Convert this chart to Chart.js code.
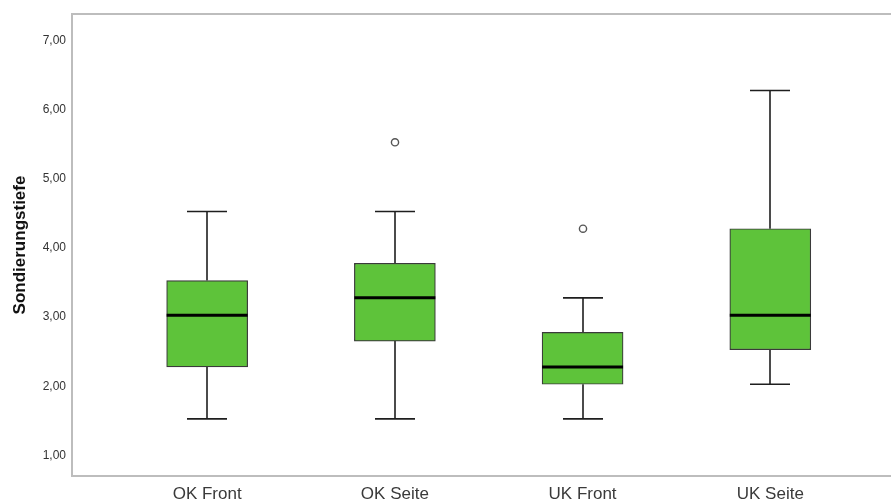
<!DOCTYPE html>
<html lang="de">
<head>
<meta charset="utf-8">
<title>Sondierungstiefe</title>
<script src="https://cdn.jsdelivr.net/npm/chart.js@4/dist/chart.umd.min.js"></script>
<style>
  html, body { margin: 0; padding: 0; background: #ffffff; overflow: hidden; }
  #wrap { width: 891px; height: 502px; overflow: hidden; }
  canvas { display: block; }
</style>
</head>
<body>
<div id="wrap"><canvas id="box" width="958" height="502"></canvas></div>
<script>
// Boxplot statistics per group
const categories = ['OK Front', 'OK Seite', 'UK Front', 'UK Seite'];
const whiskerLow = [1.5, 1.5, 1.5, 2.0];
const quartile1 = [2.25, 2.625, 2.0, 2.5];
const medians = [3.0, 3.25, 2.25, 3.0];
const quartile3 = [3.5, 3.75, 2.75, 4.25];
const whiskerHigh = [4.5, 4.5, 3.25, 6.25];
const outliers = [[], [5.5], [4.25], []];
const yTicks = [1, 2, 3, 4, 5, 6, 7];

const FONT = "'Liberation Sans', Arial, sans-serif";
const NARROW = "'Liberation Sans Narrow', 'Arial Narrow', 'Liberation Sans', sans-serif";
const boxFill = '#5ec33a';

// Whiskers and caps go under the boxes; medians and outliers on top
const boxplotParts = {
  id: 'boxplotParts',
  beforeDatasetsDraw(chart) {
    const { ctx, scales: { x, y } } = chart;
    const capHalf = 20;
    ctx.save();
    ctx.strokeStyle = '#1e1e1e';
    ctx.lineWidth = 1.6;
    categories.forEach((c, i) => {
      const px = Math.round(x.getPixelForValue(i + 1));
      const segs = [[whiskerHigh[i], quartile3[i]], [quartile1[i], whiskerLow[i]]];
      segs.forEach(([a, b]) => {
        ctx.beginPath();
        ctx.moveTo(px, y.getPixelForValue(a));
        ctx.lineTo(px, y.getPixelForValue(b));
        ctx.stroke();
      });
      [whiskerHigh[i], whiskerLow[i]].forEach(v => {
        const py = y.getPixelForValue(v);
        ctx.beginPath();
        ctx.moveTo(px - capHalf, py);
        ctx.lineTo(px + capHalf, py);
        ctx.stroke();
      });
    });
    ctx.restore();
  },
  afterDatasetsDraw(chart) {
    const { ctx, scales: { x, y } } = chart;
    const meta = chart.getDatasetMeta(0);
    ctx.save();
    categories.forEach((c, i) => {
      const bar = meta.data[i];
      const half = bar.width / 2;
      const px = bar.x;
      const py = y.getPixelForValue(medians[i]);
      ctx.strokeStyle = '#000000';
      ctx.lineWidth = 3;
      ctx.beginPath();
      ctx.moveTo(px - half, py);
      ctx.lineTo(px + half, py);
      ctx.stroke();
      outliers[i].forEach(v => {
        ctx.beginPath();
        ctx.arc(Math.round(x.getPixelForValue(i + 1)), y.getPixelForValue(v), 3.6, 0, Math.PI * 2);
        ctx.fillStyle = '#ffffff';
        ctx.fill();
        ctx.strokeStyle = '#555555';
        ctx.lineWidth = 1.4;
        ctx.stroke();
      });
    });
    ctx.restore();
  }
};

// Light grey plot frame
const plotFrame = {
  id: 'plotFrame',
  beforeDatasetsDraw(chart) {
    const { ctx, chartArea: a } = chart;
    ctx.save();
    ctx.strokeStyle = '#bdbdbd';
    ctx.lineWidth = 2;
    ctx.strokeRect(a.left, a.top, a.right - a.left, a.bottom - a.top);
    ctx.restore();
  }
};

new Chart(document.getElementById('box'), {
  type: 'bar',
  data: {
    datasets: [{
      data: categories.map((c, i) => ({ x: i + 1, y: [quartile1[i], quartile3[i]] })),
      backgroundColor: boxFill,
      borderColor: '#3a3a3a',
      borderWidth: 1.2,
      borderSkipped: false,
      barThickness: 81
    }]
  },
  options: {
    responsive: false,
    devicePixelRatio: 1,
    animation: false,
    layout: { padding: { top: 14, left: 0, right: 0, bottom: 0 } },
    plugins: {
      legend: { display: false },
      tooltip: { enabled: false }
    },
    scales: {
      x: {
        type: 'linear',
        offset: false,
        min: 0.28,
        max: 5.0,
        grid: { display: false, drawTicks: false, offset: false },
        border: { display: false },
        afterBuildTicks(scale) { scale.ticks = categories.map((c, i) => ({ value: i + 1 })); },
        afterFit(scale) { scale.height = 26; },
        ticks: {
          padding: 8,
          color: '#3a3a3a',
          font: { family: NARROW, size: 17 },
          callback: v => categories[v - 1] || ''
        }
      },
      y: {
        min: 0.673,
        max: 7.356,
        grid: { display: false, drawTicks: false },
        border: { display: false },
        afterBuildTicks(scale) { scale.ticks = yTicks.map(v => ({ value: v })); },
        afterFit(scale) { scale.width = 72; },
        ticks: {
          padding: 6,
          labelOffset: 2,
          color: '#333333',
          font: { family: FONT, size: 12 },
          callback: v => Number(v).toFixed(2).replace('.', ',')
        },
        title: {
          display: true,
          text: 'Sondierungstiefe',
          color: '#111111',
          font: { family: FONT, size: 17, weight: 'bold' },
          padding: { top: 10, bottom: 0 }
        }
      }
    }
  },
  plugins: [plotFrame, boxplotParts]
});
</script>
</body>
</html>
